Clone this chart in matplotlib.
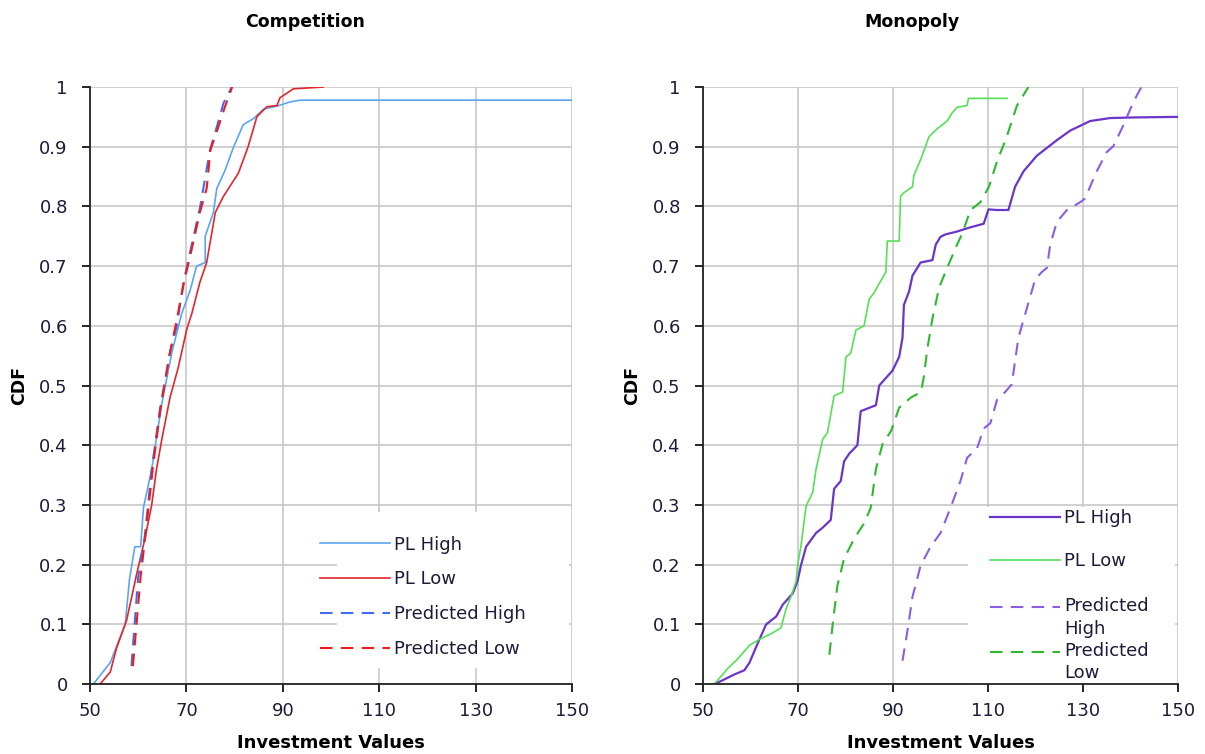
"""CDF of investment values: competition vs monopoly"""

import matplotlib

matplotlib.use("Agg")
import matplotlib.pyplot as plt
from matplotlib.legend import Legend
from matplotlib.patches import Rectangle

plt.rcParams["font.family"] = ["DejaVu Sans"]

# Competition panel
comp_pl_high_x = [50.7, 54.2, 57.3, 58.2, 59.3, 60.5, 61.1, 62.8, 64.9, 67.0, 69.0, 70.8,
                  72.1, 73.9, 73.9, 75.6, 76.3, 78.0, 79.8, 81.8, 83.9, 86.0, 88.8, 91.5,
                  93.6, 150.0]
comp_pl_high_y = [0.0, 0.036, 0.10, 0.176, 0.23, 0.23, 0.296, 0.36, 0.47, 0.556, 0.62, 0.66,
                  0.70, 0.706, 0.75, 0.79, 0.83, 0.86, 0.90, 0.937, 0.947, 0.963, 0.968, 0.975,
                  0.978, 0.978]

comp_pl_low_x = [52.1, 54.2, 55.5, 57.6, 59.7, 61.4, 62.8, 63.8, 64.9, 66.6, 68.3, 70.1, 71.1,
                 72.8, 74.2, 76.0, 77.7, 80.8, 82.8, 83.9, 84.6, 86.7, 88.8, 89.4, 92.2, 98.4]
comp_pl_low_y = [0.0, 0.02, 0.06, 0.107, 0.185, 0.244, 0.30, 0.36, 0.41, 0.48, 0.53, 0.595,
                 0.62, 0.673, 0.706, 0.79, 0.817, 0.856, 0.90, 0.93, 0.95, 0.967, 0.969,
                 0.982, 0.997, 1.0]

comp_pred_high_x = [58.6, 60.0, 61.4, 62.8, 64.5, 66.6, 68.0, 69.4, 70.8, 72.8, 74.9, 76.3,
                    77.7, 79.4]
comp_pred_high_y = [0.03, 0.18, 0.25, 0.36, 0.46, 0.556, 0.60, 0.673, 0.725, 0.797, 0.895,
                    0.933, 0.973, 1.0]

comp_pred_low_x = [58.9, 60.5, 61.8, 63.0, 64.6, 66.6, 68.0, 69.5, 71.0, 72.8, 74.2, 75.0,
                   76.5, 78.0, 79.5]
comp_pred_low_y = [0.03, 0.18, 0.27, 0.36, 0.46, 0.556, 0.61, 0.673, 0.725, 0.79, 0.83,
                   0.895, 0.93, 0.967, 1.0]

# Monopoly panel
mono_pl_high_x = [52.4, 53.8, 56.6, 58.7, 59.8, 61.5, 63.3, 65.4, 66.8, 68.9, 69.9, 70.6,
                  71.7, 73.8, 75.2, 76.9, 77.6, 79.0, 79.7, 80.8, 82.5, 83.2, 86.4, 87.1,
                  89.9, 91.3, 92.0, 92.3, 93.4, 94.1, 95.8, 98.3, 99.0, 100.0, 101.0, 103.5,
                  106.3, 109.1, 110.1, 111.9, 114.3, 115.7, 117.5, 120.3, 124.5, 127.3,
                  131.5, 135.7, 140.6, 150.0]
mono_pl_high_y = [0.0, 0.005, 0.016, 0.023, 0.036, 0.068, 0.10, 0.113, 0.133, 0.152, 0.172,
                  0.198, 0.23, 0.253, 0.262, 0.275, 0.327, 0.34, 0.373, 0.386, 0.40, 0.457,
                  0.467, 0.50, 0.525, 0.548, 0.58, 0.635, 0.658, 0.684, 0.706, 0.71, 0.736,
                  0.749, 0.753, 0.758, 0.765, 0.771, 0.795, 0.794, 0.794, 0.833, 0.859,
                  0.885, 0.911, 0.927, 0.943, 0.948, 0.949, 0.95]

mono_pl_low_x = [52.4, 53.8, 55.2, 57.3, 59.8, 61.9, 64.3, 66.4, 67.5, 68.5, 69.6, 69.9,
                 70.6, 71.7, 73.1, 73.8, 75.2, 76.2, 77.6, 79.4, 80.1, 81.1, 82.2, 83.9,
                 85.0, 86.0, 87.1, 88.5, 88.8, 91.3, 91.6, 92.3, 94.1, 94.4, 95.8, 97.6,
                 99.3, 101.4, 102.4, 103.5, 105.6, 105.9, 114.0]
mono_pl_low_y = [0.0, 0.013, 0.026, 0.042, 0.065, 0.075, 0.084, 0.094, 0.126, 0.146, 0.172,
                 0.198, 0.23, 0.298, 0.321, 0.36, 0.41, 0.421, 0.483, 0.489, 0.548, 0.554,
                 0.593, 0.60, 0.645, 0.655, 0.671, 0.69, 0.742, 0.742, 0.817, 0.823, 0.833,
                 0.852, 0.878, 0.917, 0.93, 0.943, 0.956, 0.966, 0.969, 0.981, 0.981]

mono_pred_high_x = [92.0, 93.0, 94.1, 95.8, 97.9, 100.0, 102.1, 104.2, 105.6, 107.7, 109.1,
                    110.5, 111.9, 113.6, 115.0, 116.4, 117.8, 119.9, 121.3, 122.4, 123.1,
                    124.5, 126.6, 129.4, 130.4, 132.9, 135.0, 136.4, 138.5, 140.6, 142.3]
mono_pred_high_y = [0.039, 0.087, 0.146, 0.198, 0.23, 0.253, 0.295, 0.34, 0.379, 0.395,
                    0.428, 0.437, 0.476, 0.489, 0.502, 0.58, 0.619, 0.677, 0.69, 0.697,
                    0.736, 0.774, 0.794, 0.807, 0.813, 0.859, 0.891, 0.901, 0.936, 0.975, 1.0]

mono_pred_low_x = [76.6, 77.3, 78.3, 79.7, 81.8, 83.9, 85.3, 86.4, 87.8, 89.6, 91.3, 93.8,
                   95.9, 96.5, 97.2, 98.3, 99.7, 101.4, 103.5, 104.6, 106.3, 108.4, 110.2,
                   112.0, 113.7, 116.1, 118.5]
mono_pred_low_y = [0.049, 0.10, 0.165, 0.21, 0.243, 0.269, 0.295, 0.36, 0.402, 0.424, 0.463,
                   0.48, 0.489, 0.515, 0.56, 0.612, 0.664, 0.697, 0.736, 0.755, 0.794, 0.807,
                   0.833, 0.878, 0.911, 0.969, 1.0]

x_ticks = [50, 70, 90, 110, 130, 150]
y_ticks = [0, 0.1, 0.2, 0.3, 0.4, 0.5, 0.6, 0.7, 0.8, 0.9, 1]
y_tick_labels = ["0", "0.1", "0.2", "0.3", "0.4", "0.5", "0.6", "0.7", "0.8", "0.9", "1"]

TEXT = "#1c1c3a"
DASH = (0, (6, 4))
LEG_FONT = 13


def style_axes(ax):
    ax.set_xlim(50, 150)
    ax.set_ylim(0, 1)
    ax.set_xticks(x_ticks)
    ax.set_yticks(y_ticks)
    ax.set_yticklabels(y_tick_labels)
    ax.grid(True, color="#c4c4c4", linewidth=1.1)
    ax.set_axisbelow(True)
    for side in ("top", "right"):
        ax.spines[side].set_visible(False)
    for side in ("left", "bottom"):
        ax.spines[side].set_color("#222222")
        ax.spines[side].set_linewidth(1.3)
    ax.tick_params(direction="out", length=6, width=1.2, labelsize=13, labelcolor=TEXT)
    ax.tick_params(axis="y", pad=10)
    ax.tick_params(axis="x", pad=7)
    ax.set_ylabel("CDF", fontsize=12.5, fontweight="bold", color="black", labelpad=8)
    ax.set_xlabel("Investment Values", fontsize=13, fontweight="bold", color="black",
                  labelpad=10)


def legend_backdrop(ax, x0, y0, x1, y1):
    # white box under the legend hides the grid behind it
    ax.add_patch(Rectangle((x0, y0), x1 - x0, y1 - y0, transform=ax.transAxes,
                           facecolor="white", edgecolor="none", zorder=1))


def add_legend(ax, handles, anchor, spacing):
    labels = [h.get_label() for h in handles]
    leg = Legend(ax, handles, labels, bbox_to_anchor=anchor, loc="upper left",
                 fontsize=LEG_FONT, handlelength=3.9, handletextpad=0.2,
                 borderpad=0.0, borderaxespad=0.0, frameon=False,
                 labelspacing=spacing)
    for t in leg.get_texts():
        t.set_color(TEXT)
        t.set_linespacing(1.35)
    # two-line labels: put the sample line level with the first line
    for line, t in zip(leg.legend_handles, leg.get_texts()):
        if "\n" in t.get_text():
            y = line.get_ydata()
            line.set_ydata([v + 8.0 for v in y])
    ax.add_artist(leg)
    return leg


fig = plt.figure(figsize=(12.05, 7.54), dpi=100)
ax1 = fig.add_axes([0.0747, 0.0928, 0.400, 0.7918])
ax2 = fig.add_axes([0.5834, 0.0928, 0.3942, 0.7918])

c1, = ax1.plot(comp_pl_high_x, comp_pl_high_y, color="#5aa6f0", linewidth=1.2,
               label="PL High", zorder=2)
c2, = ax1.plot(comp_pl_low_x, comp_pl_low_y, color="#e3262b", linewidth=1.2,
               label="PL Low", zorder=2)
c3, = ax1.plot(comp_pred_high_x, comp_pred_high_y, color="#3f6cf2", linewidth=1.5,
               linestyle=DASH, label="Predicted High", zorder=2)
c4, = ax1.plot(comp_pred_low_x, comp_pred_low_y, color="#ee1c1c", linewidth=1.5,
               linestyle=DASH, label="Predicted Low", zorder=2)

m1, = ax2.plot(mono_pl_high_x, mono_pl_high_y, color="#6a35c8", linewidth=1.6,
               label="PL High", zorder=2)
m2, = ax2.plot(mono_pl_low_x, mono_pl_low_y, color="#55e055", linewidth=1.2,
               label="PL Low", zorder=2)
m3, = ax2.plot(mono_pred_high_x, mono_pred_high_y, color="#8a5ee0", linewidth=1.5,
               linestyle=DASH, label="Predicted\nHigh", zorder=2)
m4, = ax2.plot(mono_pred_low_x, mono_pred_low_y, color="#2fb82f", linewidth=1.5,
               linestyle=DASH, label="Predicted\nLow", zorder=2)

for ax in (ax1, ax2):
    style_axes(ax)

legend_backdrop(ax1, 0.512, 0.027, 0.994, 0.288)
legend_backdrop(ax2, 0.558, 0.0, 0.994, 0.296)

add_legend(ax1, [c1, c2, c3, c4], (0.477, 0.2487), 0.93)
add_legend(ax2, [m1, m2], (0.604, 0.293), 1.39)
add_legend(ax2, [m3, m4], (0.604, 0.1457), 0.2)

fig.text(0.253, 0.971, "Competition", ha="center", va="center", fontsize=12.5,
         fontweight="bold")
fig.text(0.757, 0.971, "Monopoly", ha="center", va="center", fontsize=12.5,
         fontweight="bold")

fig.savefig("out.png", dpi=100)
